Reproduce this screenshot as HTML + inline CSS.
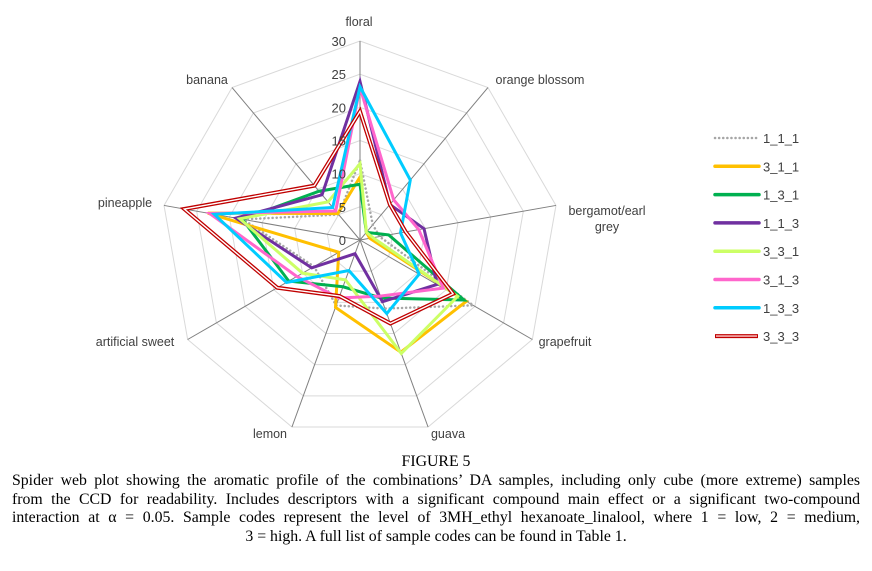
<!DOCTYPE html>
<html><head><meta charset="utf-8"><style>
body{margin:0;background:#fff;width:872px;height:571px;overflow:hidden;position:relative}
svg text{font-family:"Liberation Sans",sans-serif}
#cap{position:absolute;left:12px;top:453px;width:848px;font-family:"Liberation Serif",serif;font-size:15.8px;line-height:18.8px;color:#000}
#cap .c{text-align:center}
#cap .j{text-align:justify;text-align-last:justify;white-space:nowrap}
</style></head><body>
<svg id="chart" width="872" height="450" style="position:absolute;left:0;top:0"></svg>
<div id="cap">
<div class="c">FIGURE 5</div>
<div>
<div class="j">Spider web plot showing the aromatic profile of the combinations’ DA samples, including only cube (more extreme) samples</div>
<div class="j">from the CCD for readability. Includes descriptors with a significant compound main effect or a significant two-compound</div>
<div class="j">interaction at α = 0.05. Sample codes represent the level of 3MH_ethyl hexanoate_linalool, where 1 = low, 2 = medium,</div>
<div class="c">3 = high. A full list of sample codes can be found in Table 1.</div>
</div>
</div>
<script>
const categories=["floral","orange blossom","bergamot/earl grey","grapefruit","guava","lemon","artificial sweet","pineapple","banana"];
const ticks=[0,5,10,15,20,25,30];
const seriesNames=["1_1_1","3_1_1","1_3_1","1_1_3","3_3_1","3_1_3","1_3_3","3_3_3"];
const s111=[12,3,3,19.7,11,10.5,8,17.9,5];
const s311=[9.5,1.5,1.5,18.5,18,10.8,3.7,23.3,5.2];
const s131=[8.4,1.5,4.4,18.1,9.3,7.5,12.4,18,9.6];
const s113=[23.9,7,9.8,13.4,9.9,2.2,8.4,19,8.9];
const s331=[11.5,1.5,2,17,18.2,6.4,10,18.4,7.5];
const s313=[23,7.9,9,14.5,9,9.3,11,23,5.7];
const s133=[23.1,11.8,6.2,10.3,11.8,4.9,12.8,22.3,6.4];
const s333=[19.4,7,7,16.2,13.4,9,14.4,26.9,10.7];
const colors=["#a6a6a6","#ffc000","#00b050","#7030a0","#ccff66","#ff66cc","#00ccff","#c00000"];
const allSeries=[s111,s311,s131,s113,s331,s313,s133,s333];
const svg=document.getElementById('chart');
const NS="http://www.w3.org/2000/svg";
const cx=360,cy=240,R=199,maxV=30;
function rad(v){return v/maxV*R;}
function pt(i,v){const a=i*2*Math.PI/categories.length;return [cx+rad(v)*Math.sin(a),cy-rad(v)*Math.cos(a)];}
function mk(tag,attrs,parent){const e=document.createElementNS(NS,tag);for(const k in attrs)e.setAttribute(k,attrs[k]);(parent||svg).appendChild(e);return e;}
ticks.slice(1).forEach(t=>{
  const p=mk('polygon',{points:categories.map((c,i)=>pt(i,t).join(',')).join(' '),fill:'none',stroke:'#d9d9d9','stroke-width':1});
  
  
});
categories.forEach((c,i)=>{
  const e=pt(i,maxV);
  const l=mk('line',{x1:cx,y1:cy,x2:e[0],y2:e[1],stroke:'#7f7f7f','stroke-width':1});
  
  
});
allSeries.forEach((vals,si)=>{
  const pts=vals.map((v,i)=>pt(i,v).join(',')).join(' ');
  let p;
  if(si===0){
    p=mk('polygon',{points:pts,fill:'none',stroke:colors[si],'stroke-width':2.5,'stroke-dasharray':'0.1 4','stroke-linecap':'round'});
  }else if(si===7){
    p=mk('polygon',{points:pts,fill:'none',stroke:colors[si],'stroke-width':4,'stroke-linejoin':'miter'});
    const w=mk('polygon',{points:pts,fill:'none',stroke:'#fff','stroke-width':1.4});
    
    
  }else{
    p=mk('polygon',{points:pts,fill:'none',stroke:colors[si],'stroke-width':3,'stroke-linejoin':'miter'});
  }
  
  
});
ticks.forEach(t=>{
  const tx=mk('text',{x:cx-14,y:cy-rad(t)+5,'text-anchor':'end','font-size':13,fill:'#404040'});
  tx.textContent=t;
  
  
});
const labPos=[[359,26,'middle'],[540,84,'middle'],[607,215,'middle'],[565,346,'middle'],[448,438,'middle'],[270,438,'middle'],[135,346,'middle'],[125,207,'middle'],[207,84,'middle']];
categories.forEach((c,i)=>{
  const [x,y,a]=labPos[i];
  const tx=mk('text',{x:x,y:y,'text-anchor':a,'font-size':12.5,fill:'#404040'});
  if(c==="bergamot/earl grey"){
    const a1=mk('tspan',{x:x,dy:0},tx);a1.textContent="bergamot/earl";
    const a2=mk('tspan',{x:x,dy:16},tx);a2.textContent="grey";
  } else tx.textContent=c;
  
  
});
seriesNames.forEach((n,si)=>{
  const y=138+si*28.3;
  const g=mk('g',{});
  
  
  if(si===0){
    mk('line',{x1:715,y1:y,x2:758,y2:y,stroke:colors[si],'stroke-width':2.5,'stroke-dasharray':'0.1 4','stroke-linecap':'round'},g);
  }else if(si===7){
    mk('line',{x1:715,y1:y,x2:758,y2:y,stroke:colors[si],'stroke-width':4},g);
    mk('line',{x1:716,y1:y,x2:757,y2:y,stroke:'#f4b0b0','stroke-width':1.6},g);
  }else{
    mk('line',{x1:715,y1:y,x2:759,y2:y,stroke:colors[si],'stroke-width':3.5,'stroke-linecap':'round'},g);
  }
  const t=mk('text',{x:763,y:y+5,'font-size':13,fill:'#404040'},g);
  t.textContent=n;
});
</script>
</body></html>
